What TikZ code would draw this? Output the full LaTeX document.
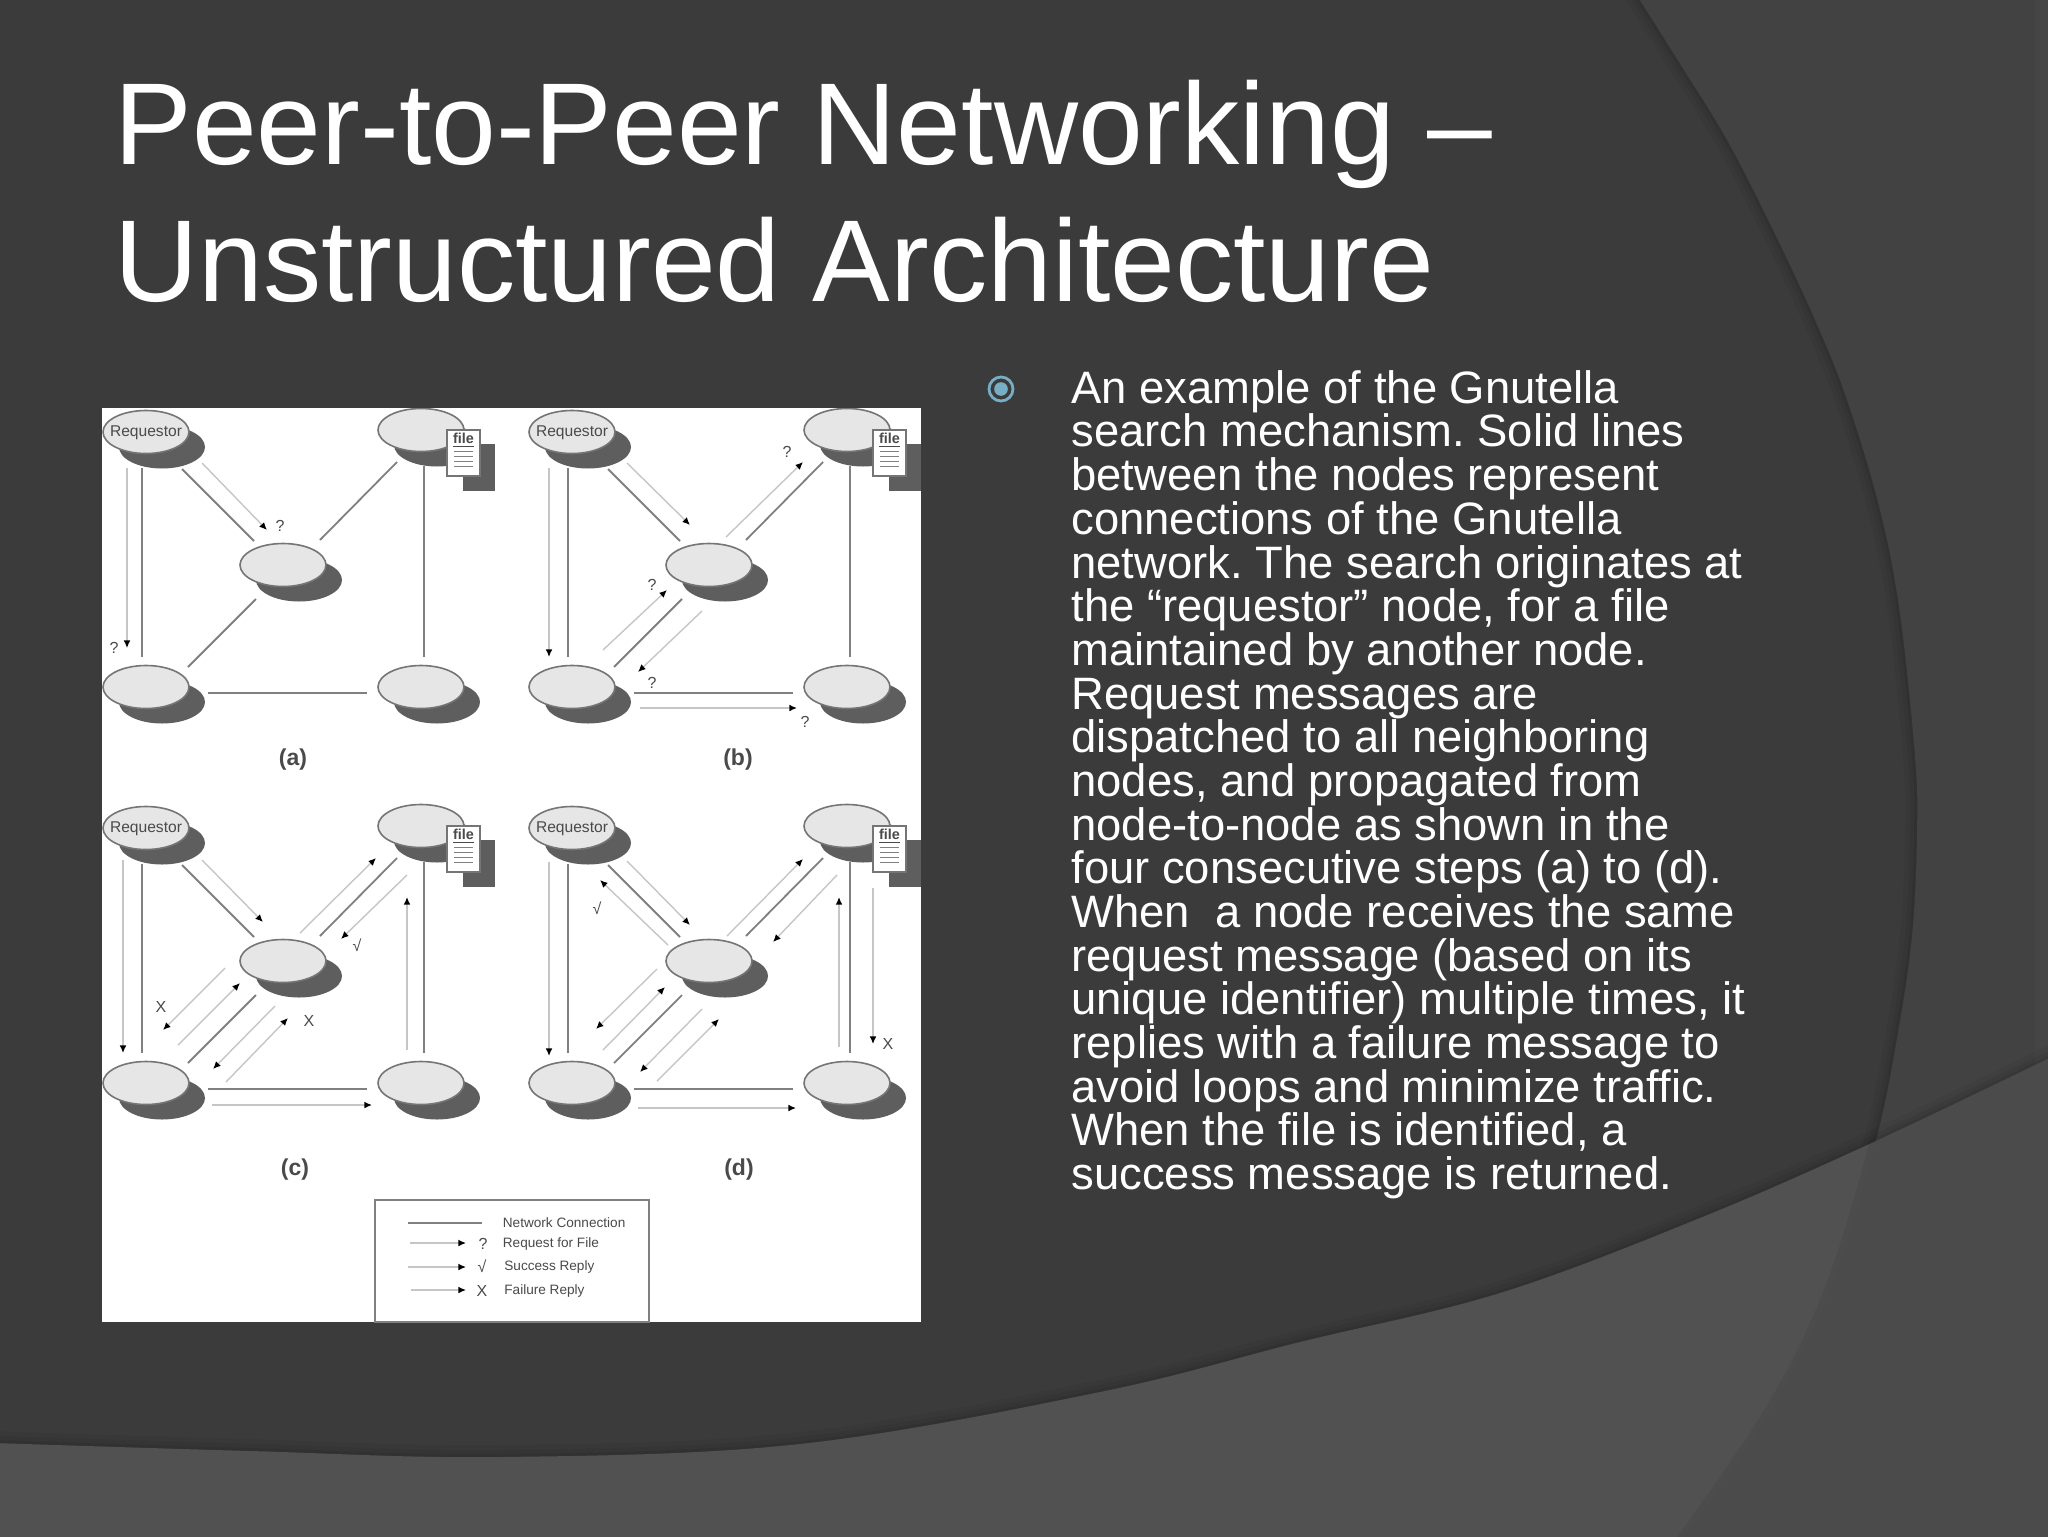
\documentclass[tikz,border=0pt]{standalone}
\usepackage{fontspec}
\setmainfont{Liberation Sans}
\usetikzlibrary{shapes.geometric,arrows.meta,calc}
\frenchspacing
\definecolor{bgmain}{HTML}{3B3B3B}
\definecolor{bgright}{HTML}{424242}
\definecolor{bgband}{HTML}{515151}
\definecolor{bgbandr}{HTML}{4B4B4B}
\definecolor{peerfill}{HTML}{E6E6E6}
\definecolor{peeredge}{HTML}{757575}
\definecolor{peershade}{HTML}{5E5E5E}
\definecolor{netline}{HTML}{808080}
\definecolor{msgline}{HTML}{C6C6C6}
\definecolor{inkgray}{HTML}{4A4A4A}
\definecolor{bulletc}{HTML}{78AEC4}
\tikzset{
  peer/.style={ellipse,draw=peeredge,line width=.8pt,fill=peerfill,minimum width=43pt,minimum height=21.5pt,inner sep=0pt},
  peerback/.style={ellipse,fill=peershade,minimum width=43pt,minimum height=21.5pt,inner sep=0pt},
  peername/.style={inner sep=0pt,text=inkgray,font=\fontsize{7.8pt}{9pt}\selectfont},
  net/.style={draw=netline,line width=.9pt},
  msg/.style={draw=msgline,line width=.7pt,-{Latex[color=black,length=3.8pt,width=3.4pt]}},
  sign/.style={text=inkgray,inner sep=0pt,font=\fontsize{8pt}{9pt}\selectfont},
  panelname/.style={text=inkgray,inner sep=0pt,font=\fontsize{11.5pt}{12pt}\selectfont\bfseries},
  legendtext/.style={anchor=west,text=inkgray,inner sep=0pt,font=\fontsize{6.8pt}{8pt}\selectfont},
  titletext/.style={anchor=north west,align=left,text=white,inner sep=0pt,font=\fontsize{58.2pt}{68.5pt}\selectfont},
  bodytext/.style={anchor=north west,align=left,text=white,inner sep=0pt,font=\fontsize{22.7pt}{21.84pt}\selectfont}
}
\newcommand{\link}[5]{\draw[#1] ($(#2)+(#3)$) -- ($(#4)+(#5)$);}
\newcommand{\panelbase}[4]{%
  \begin{scope}[shift={(#2,#3)}]
    \node[peerback] (#1-reqs) at (162,447) {};
    \node[peerback] (#1-trs) at (437,445) {};
    \node[peerback] (#1-cs) at (299,580) {};
    \node[peerback] (#1-bls) at (162,702) {};
    \node[peerback] (#1-brs) at (437,702) {};
    \fill[peershade] (463,444) rectangle (495,491);
    \node[peer] (#1-req) at (146,432) {};
    \node[peername] (#1-reqname) at (146,433) {Requestor};
    \node[peer] (#1-tr) at (421,430) {};
    \node[peer] (#1-c) at (283,565) {};
    \node[peer] (#1-bl) at (146,687) {};
    \node[peer] (#1-br) at (421,687) {};
    \node[rectangle,draw=peeredge,line width=.6pt,fill=white,minimum width=16.5pt,minimum height=23pt,inner sep=0pt] (#1-doc) at (463.5,453) {};
    \node[inner sep=0pt,text=inkgray,font=\fontsize{7.2pt}{8pt}\selectfont\bfseries] (#1-file) at (463.5,440.5) {\underline{file}};
    \foreach \yy in {451,456,461,466}{\draw[draw=netline,line width=.5pt] (454,\yy) -- (473,\yy);}
    \node[panelname] (#1-name) at #4;
    \link{net}{#1-req}{-4,36}{#1-bl}{-4,-30}
    \link{net}{#1-req}{36,37}{#1-c}{-29,-24}
    \link{net}{#1-tr}{-24,32}{#1-c}{37,-25}
    \link{net}{#1-c}{-27,34}{#1-bl}{42,-20}
    \link{net}{#1-bl}{62,6}{#1-br}{-54,6}
    \link{net}{#1-tr}{3,36}{#1-br}{3,-30}
  \end{scope}}
\def\arcpts{(1636,-6) (1682,67) (1727,140) (1773,230) (1815,320) (1847,400) (1880,510) (1900,614) (1915,757) (1917,834) (1912,936) (1897,1038) (1876,1140) (1832,1285) (1773,1407) (1678,1546)}
\def\bandpts{(-6,1443) (250,1451) (500,1457) (800,1444) (1100,1392) (1300,1342) (1500,1293) (1700,1218) (1876,1141) (2054,1056)}
\begin{document}
\begin{tikzpicture}[x=.5pt,y=-.5pt]
\useasboundingbox (0,0) rectangle (2048,1536);
% background
\fill[bgmain] (-6,-6) rectangle (2054,1546);
\foreach \w/\o in {12/.04,7/.05,3/.06}{\draw[black,opacity=\o,line width=\w pt] plot[smooth,tension=.6] coordinates {\arcpts};}
\fill[bgright] plot[smooth,tension=.6] coordinates {\arcpts} -- (2054,1546) -- (2054,-6) -- cycle;
\fill[white,opacity=.02] (2035,-6) rectangle (2054,1546);
\foreach \w/\o in {12/.04,7/.05,3/.06}{\draw[black,opacity=\o,line width=\w pt] plot[smooth,tension=.6] coordinates {\bandpts};}
\fill[bgband] plot[smooth,tension=.6] coordinates {\bandpts} -- (2054,1546) -- (-6,1546) -- cycle;
\begin{scope}
  \clip plot[smooth,tension=.6] coordinates {\bandpts} -- (2054,1546) -- (-6,1546) -- cycle;
  \draw[black,opacity=.05,line width=6pt] plot[smooth,tension=.6] coordinates {\arcpts};
  \fill[bgbandr] plot[smooth,tension=.6] coordinates {\arcpts} -- (2054,1546) -- (2054,-6) -- cycle;
\end{scope}
% title
\node[titletext] (title) at (114,80) {Peer-to-Peer Networking –\\Unstructured Architecture};
% bullet and body
\node[circle,draw=bulletc,line width=1.4pt,fill=none,minimum size=12pt,inner sep=0pt] (bulletring) at (1001,389) {};
\node[circle,fill=bulletc,minimum size=6.8pt,inner sep=0pt] (bulletdot) at (1001,389) {};
\node[bodytext] (body) at (1071,370) {An example of the Gnutella\\
search mechanism. Solid lines\\
between the nodes represent\\
connections of the Gnutella\\
network. The search originates at\\
the “requestor” node, for a file\\
maintained by another node.\\
Request messages are\\
dispatched to all neighboring\\
nodes, and propagated from\\
node-to-node as shown in the\\
four consecutive steps (a) to (d).\\
When\ \ a node receives the same\\
request message (based on its\\
unique identifier) multiple times, it\\
replies with a failure message to\\
avoid loops and minimize traffic.\\
When the file is identified, a\\
success message is returned.};
% figure
\fill[white] (102,408) rectangle (921,1322);
\begin{scope}
\clip (102,408) rectangle (921,1322);
\panelbase{a}{0}{0}{(293,760) {(a)}}
\panelbase{b}{426}{0}{(312,760) {(b)}}
\panelbase{c}{0}{396}{(295,773.5) {(c)}}
\panelbase{d}{426}{396}{(313,773.5) {(d)}}
\end{scope}
% panel a
\link{msg}{a-req}{56,31}{a-c}{-16,-35}
\link{msg}{a-req}{-19,36}{a-bl}{-19,-39}
\node[sign] (a-q1) at (280,526) {?};
\node[sign] (a-q2) at (114,648) {?};
% panel b
\link{msg}{b-req}{55,31}{b-c}{-19,-40}
\link{msg}{b-req}{-23,36}{b-bl}{-23,-30}
\link{msg}{b-c}{17,-28}{b-tr}{-44,32}
\link{msg}{b-bl}{31,-37}{b-c}{-42,25}
\link{msg}{b-c}{-7,46}{b-bl}{66,-15}
\link{msg}{b-bl}{68,21}{b-br}{-50,21}
\node[sign] (b-q1) at (787,452) {?};
\node[sign] (b-q2) at (652,585) {?};
\node[sign] (b-q3) at (652,683) {?};
\node[sign] (b-q4) at (805,722) {?};
% panel c
\link{msg}{c-req}{-23,32}{c-bl}{-23,-30}
\link{msg}{c-req}{56,32}{c-c}{-20,-39}
\link{msg}{c-c}{17,-28}{c-tr}{-45,32}
\link{msg}{c-tr}{-14,49}{c-c}{58,-22}
\link{msg}{c-br}{-14,-33}{c-tr}{-14,71}
\link{msg}{c-c}{-58,7}{c-bl}{17,-53}
\link{msg}{c-bl}{32,-38}{c-c}{-43,22}
\link{msg}{c-c}{-8,45}{c-bl}{67,-14}
\link{msg}{c-bl}{80,-1}{c-c}{5,57}
\link{msg}{c-bl}{66,22}{c-br}{-49,22}
\node[sign] (c-ok) at (357,945) {√};
\node[sign] (c-x1) at (161,1007) {X};
\node[sign] (c-x2) at (309,1021) {X};
% panel d
\link{msg}{d-req}{-23,34}{d-bl}{-23,-27}
\link{msg}{d-req}{55,33}{d-c}{-19,-36}
\link{msg}{d-c}{-41,-16}{d-req}{28,52}
\link{msg}{d-c}{18,-25}{d-tr}{-44,33}
\link{msg}{d-tr}{-10,49}{d-c}{64,-19}
\link{msg}{d-br}{-8,-36}{d-tr}{-8,71}
\link{msg}{d-tr}{26,62}{d-br}{26,-39}
\link{msg}{d-c}{-52,8}{d-bl}{24,-54}
\link{msg}{d-bl}{31,-33}{d-c}{-44,26}
\link{msg}{d-c}{-7,48}{d-bl}{68,-11}
\link{msg}{d-bl}{85,-2}{d-c}{10,58}
\link{msg}{d-bl}{66,25}{d-br}{-51,25}
\node[sign] (d-ok) at (597,908) {√};
\node[sign] (d-x) at (888,1044) {X};
% legend
\draw[draw=netline,line width=.8pt] (375,1322) -- (375,1200) -- (649,1200) -- (649,1322) -- cycle;
\coordinate (la1) at (408,1223); \coordinate (lb1) at (482,1223);
\coordinate (la2) at (410,1243); \coordinate (lb2) at (466,1243);
\coordinate (la3) at (408,1267); \coordinate (lb3) at (466,1267);
\coordinate (la4) at (411,1290); \coordinate (lb4) at (466,1290);
\draw[net] (la1) -- (lb1);
\draw[msg] (la2) -- (lb2);
\draw[msg] (la3) -- (lb3);
\draw[msg] (la4) -- (lb4);
\node[sign] (lg-q) at (483,1244) {?};
\node[sign] (lg-ok) at (482,1266) {√};
\node[sign] (lg-x) at (482,1291) {X};
\node[legendtext] (lg-1) at (502.5,1223) {Network Connection};
\node[legendtext] (lg-2) at (502.5,1244) {Request for File};
\node[legendtext] (lg-3) at (504,1267) {Success Reply};
\node[legendtext] (lg-4) at (504,1291) {Failure Reply};
\end{tikzpicture}
\end{document}
